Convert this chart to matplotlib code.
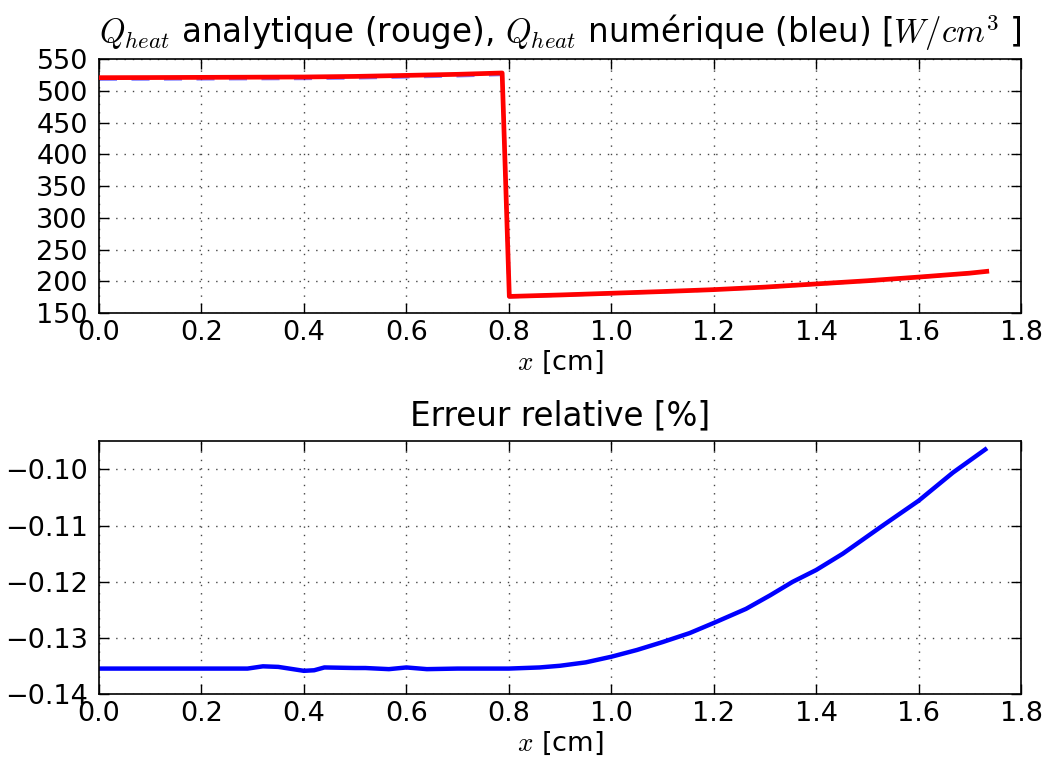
import matplotlib
matplotlib.use("Agg")
import matplotlib.pyplot as plt
from matplotlib.ticker import FuncFormatter

# ---- data ----
x_top = [0.0, 0.1, 0.2, 0.3, 0.4, 0.5, 0.6, 0.7, 0.787,
         0.801, 0.9, 1.0, 1.1, 1.2, 1.3, 1.4, 1.5, 1.6, 1.7, 1.733]
q_analytic = [521.0, 521.2, 521.5, 521.8, 522.1, 523.0, 524.6, 526.3, 528.4,
              176.3, 178.6, 181.3, 184.0, 187.0, 191.0, 196.0, 201.0, 206.8, 213.0, 215.8]
q_numeric = [518.8, 519.0, 519.3, 519.6, 519.9, 520.8, 522.4, 524.1, 526.2,
             176.0, 178.4, 181.1, 183.8, 186.8, 190.8, 195.8, 200.8, 206.6, 212.8, 215.6]

x_err = [0.0, 0.1, 0.2, 0.29, 0.32, 0.35, 0.4, 0.42, 0.44, 0.5, 0.52, 0.566,
         0.6, 0.64, 0.7, 0.8, 0.86, 0.9, 0.95, 1.0, 1.05, 1.1, 1.153, 1.2,
         1.263, 1.31, 1.354, 1.4, 1.452, 1.53, 1.6, 1.667, 1.73]
err_rel = [-0.1354, -0.1354, -0.1354, -0.1354, -0.1350, -0.1351, -0.1358, -0.1357,
           -0.1352, -0.1353, -0.1353, -0.1355, -0.1352, -0.1355, -0.1354, -0.1354,
           -0.1352, -0.1349, -0.1343, -0.1333, -0.1321, -0.1307, -0.1291, -0.1273,
           -0.1248, -0.1224, -0.1200, -0.1179, -0.1150, -0.1100, -0.1056, -0.1006, -0.0965]

x_ticks = [0.0, 0.2, 0.4, 0.6, 0.8, 1.0, 1.2, 1.4, 1.6, 1.8]
top_yticks = [150, 200, 250, 300, 350, 400, 450, 500, 550]
bot_yticks = [-0.14, -0.13, -0.12, -0.11, -0.10]

plt.rcParams['mathtext.fontset'] = 'cm'
plt.rcParams['font.family'] = ['DejaVu Sans']

FS = 19.5
TFS = 23.5


def fmt(d):
    return FuncFormatter(lambda v, p: (('%.' + str(d) + 'f') % v).replace('-', '\u2212'))


fig = plt.figure(figsize=(10.43, 7.6), dpi=100, facecolor='white')
ax1 = fig.add_axes([0.0949, 0.588, 0.979 - 0.0949, 0.922 - 0.588])
ax2 = fig.add_axes([0.0949, 0.0862, 0.979 - 0.0949, 0.4197 - 0.0862])

ax1.plot(x_top, q_numeric, color='blue', lw=2.6, ls='--', dashes=(5, 4), alpha=0.5, zorder=2)
ax1.plot(x_top, q_analytic, color='red', lw=3.4, zorder=3)
ax1.set_xlim(0, 1.8)
ax1.set_ylim(150, 550)
ax1.set_yticks(top_yticks)
ax1.yaxis.set_major_formatter(fmt(0))
ax1.set_title(r'$Q_{heat}$ analytique (rouge), $Q_{heat}$ numérique (bleu) [$W/cm^3$ ]',
              fontsize=TFS, pad=12)
ax1.set_xlabel(r'$x$ [cm]', fontsize=FS, labelpad=2)

ax2.plot(x_err, err_rel, color='blue', lw=3.2)
ax2.set_xlim(0, 1.8)
ax2.set_ylim(-0.14, -0.095)
ax2.set_yticks(bot_yticks)
ax2.yaxis.set_major_formatter(fmt(2))
ax2.set_title('Erreur relative [%]', fontsize=TFS, pad=11)
ax2.set_xlabel(r'$x$ [cm]', fontsize=FS, labelpad=2)

for ax in (ax1, ax2):
    ax.set_xticks(x_ticks)
    ax.xaxis.set_major_formatter(fmt(1))
    ax.grid(True, color='#444444', ls=(0, (1, 5)), lw=1.0)
    ax.tick_params(direction='in', top=True, right=True, length=7, width=1,
                   labelsize=FS)
    ax.tick_params(axis='x', pad=5)
    ax.tick_params(axis='y', pad=8)
    for s in ax.spines.values():
        s.set_linewidth(1.2)

fig.savefig('out.png', dpi=100, facecolor='white')
